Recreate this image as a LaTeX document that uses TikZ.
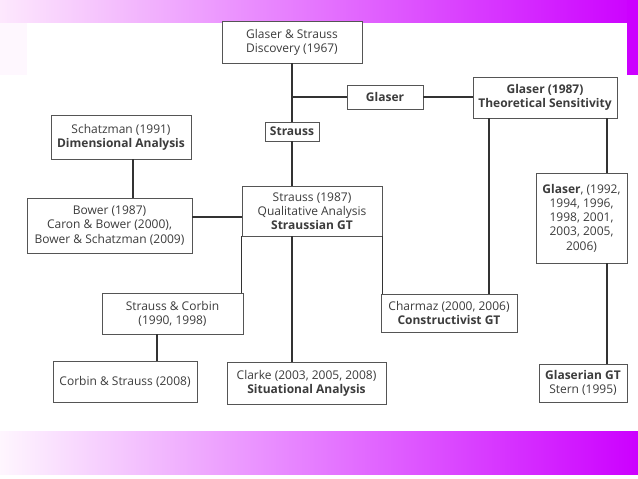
\documentclass[tikz,border=0pt]{standalone}
\usepackage{fontspec}
\setmainfont{Open Sans}
\usepackage{tikz}
\usetikzlibrary{positioning}

\definecolor{bandpink}{RGB}{253,232,253}
\definecolor{bandmag}{RGB}{204,0,255}
\definecolor{boxline}{RGB}{85,85,85}
\definecolor{txtgray}{RGB}{60,60,60}

\begin{document}
\begin{tikzpicture}[x=1pt,y=-1pt]
    \tikzset{gtbox/.style={draw=boxline,line width=0.9pt,fill=white,align=center,
        text=txtgray,inner sep=1pt,font=\fontsize{12}{14.2}\selectfont}}
    \tikzset{link/.style={draw=black!80,line width=1.3pt}}
    \useasboundingbox (0,0) rectangle (638,479);
    \fill[white] (0,0) rectangle (638,479);
    \fill[bandpink!35] (0,0) rectangle (27,75);
    \shade[left color=bandpink,right color=bandmag] (0,0) rectangle (638,22);
    \fill[bandmag] (627,0) rectangle (638,75);
    \shade[left color=bandpink!40,right color=bandmag] (0,431) rectangle (638,474);

    \coordinate (lschatz) at (133,0);
    \coordinate (lmid) at (292,0);
    \coordinate (lcharmaz) at (489,0);
    \coordinate (lglaser) at (607,0);
    \coordinate (lcorbin) at (157,0);

    \node[gtbox,minimum width=140pt,minimum height=42pt] (disc) at (292,42)
        {Glaser \& Strauss\\Discovery (1967)};
    \node[gtbox,minimum width=76pt,minimum height=24pt] (glaser) at (385,97)
        {\textbf{Glaser}};
    \node[gtbox,minimum width=54pt,minimum height=19pt] (strauss) at (292,131.5)
        {\textbf{Strauss}};
    \node[gtbox,minimum width=144pt,minimum height=41pt] (g87) at (545,97.5)
        {\textbf{Glaser (1987)}\\\textbf{Theoretical Sensitivity}};
    \node[gtbox,minimum width=140pt,minimum height=44pt] (schatz) at (121,137)
        {Schatzman (1991)\\\textbf{Dimensional Analysis}};
    \node[gtbox,minimum width=165pt,minimum height=55pt] (bower) at (109.5,225.5)
        {Bower (1987)\\Caron \& Bower (2000),\\Bower \& Schatzman (2009)};
    \node[gtbox,minimum width=140pt,minimum height=50pt] (sgt) at (312,211)
        {Strauss (1987)\\Qualitative Analysis\\\textbf{Straussian GT}};
    \node[gtbox,minimum width=91pt,minimum height=90pt] (g92) at (581.5,218)
        {\textbf{Glaser}, (1992,\\1994, 1996,\\1998, 2001,\\2003, 2005,\\2006)};
    \node[gtbox,minimum width=141pt,minimum height=41pt] (sc) at (172.5,313.5)
        {Strauss \& Corbin\\(1990, 1998)};
    \node[gtbox,minimum width=136pt,minimum height=38pt] (charmaz) at (449,313)
        {Charmaz (2000, 2006)\\\textbf{Constructivist GT}};
    \node[gtbox,minimum width=144pt,minimum height=41pt] (cs) at (125,381.5)
        {Corbin \& Strauss (2008)};
    \node[gtbox,minimum width=159pt,minimum height=42pt] (clarke) at (306.5,383)
        {Clarke (2003, 2005, 2008)\\\textbf{Situational Analysis}};
    \node[gtbox,minimum width=88pt,minimum height=38pt] (glaserian) at (583,383)
        {\textbf{Glaserian GT}\\Stern (1995)};

    \draw[link] (disc.south -| lmid) -- (strauss.north -| lmid);
    \draw[link] (glaser.west) -- (glaser.west -| lmid);
    \draw[link] (glaser.east) -- (glaser.east -| g87.west);
    \draw[link] (strauss.south -| lmid) -- (sgt.north -| lmid);
    \draw[link] (schatz.south -| lschatz) -- (bower.north -| lschatz);
    \draw[link] ([yshift=8.5pt]bower.east) -- ([yshift=8.5pt]bower.east -| sgt.west);
    \draw[link] (sgt.south west) -- (sgt.south west |- sc.north);
    \draw[link] (sgt.south -| lmid) -- (clarke.north -| lmid);
    \draw[link] (sgt.south east) -- (sgt.south east |- charmaz.north);
    \draw[link] (g87.south -| lcharmaz) -- (charmaz.north -| lcharmaz);
    \draw[link] (g87.south -| lglaser) -- (g92.north -| lglaser);
    \draw[link] (g92.south -| lglaser) -- (glaserian.north -| lglaser);
    \draw[link] (sc.south -| lcorbin) -- (cs.north -| lcorbin);
\end{tikzpicture}
\end{document}
